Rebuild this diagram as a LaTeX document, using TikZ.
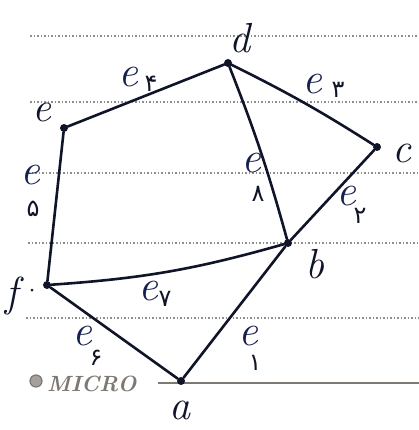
\documentclass[tikz,border=0pt]{standalone}
\usepackage{fontspec}
\newfontfamily\fa{DejaVu Sans}
\definecolor{ink}{HTML}{0F1428}
\definecolor{inkb}{HTML}{16204E}
\definecolor{paperline}{HTML}{8E8E8E}
\definecolor{brandgray}{HTML}{7E7872}
\begin{document}
\begin{tikzpicture}[x=1pt,y=-1pt,
  edge/.style={line width=2.6pt, draw=ink, line cap=round},
  vdot/.style={circle, fill=ink, inner sep=0pt, minimum size=8pt},
  vlab/.style={font=\fontsize{42}{42}\selectfont\itshape, text=ink, inner sep=0pt},
  elab/.style={font=\fontsize{44}{44}\selectfont\itshape, text=inkb, inner sep=0pt},
  esub/.style={font=\fa\fontsize{24}{24}\selectfont, text=ink, inner sep=0pt},
  paper/.style={dotted, line width=1.5pt, draw=paperline}
]
\useasboundingbox[fill=white] (0,0) rectangle (419,430);

% ruled paper
\coordinate (p1a) at (30,36);  \coordinate (p1b) at (419,36);
\coordinate (p2a) at (30,102); \coordinate (p2b) at (419,102);
\coordinate (p3a) at (28,173); \coordinate (p3b) at (419,173);
\coordinate (p4a) at (28,243); \coordinate (p4b) at (419,243);
\coordinate (p5a) at (26,318); \coordinate (p5b) at (419,318);
\coordinate (p6a) at (158,383); \coordinate (p6b) at (419,383);
\draw[paper] (p1a) -- (p1b);
\draw[paper] (p2a) -- (p2b);
\draw[paper] (p3a) -- (p3b);
\draw[paper] (p4a) -- (p4b);
\draw[paper] (p5a) -- (p5b);
\draw[line width=1.6pt, draw=brandgray] (p6a) -- (p6b);
\node[circle, fill=brandgray!70, draw=brandgray, line width=1.2pt, inner sep=0pt, minimum size=12pt] (logo) at (36,381) {};
\node[font=\fontsize{22}{22}\selectfont\bfseries\itshape, text=brandgray, anchor=west, inner sep=0pt] (brand) at (47,384) {MICRO};

% vertices
\node[vdot] (a) at (181,381) {};
\node[vdot] (b) at (288,243) {};
\node[vdot] (c) at (377,147) {};
\node[vdot] (d) at (228,63) {};
\node[vdot] (e) at (64,128) {};
\node[vdot] (f) at (47,285) {};

% vertex labels
\node[vlab] (la) at (180,410) {a};
\node[vlab] (lb) at (315,264) {b};
\node[vlab] (lc) at (402,153) {c};
\node[vlab] (ld) at (240,38) {d};
\node[vlab] (le) at (42,112) {e};
\node[vlab] (lf) at (12,296) {f};
\node[circle, fill=ink, inner sep=0pt, minimum size=3pt] (fdot) at (32,290) {};

% edges
\draw[edge] (a) -- (b);
\draw[edge] (b) -- (c);
\draw[edge] (d) to[bend left=3] (c);
\draw[edge] (d) -- (e);
\draw[edge] (e) -- (f);
\draw[edge] (f) -- (a);
\draw[edge] (f) to[bend right=6] (b);
\draw[edge] (d) to[bend left=3] (b);

% edge labels
\node[elab] (e1) at (248,336) {e}; \node[esub] (s1) at (255,363) {۱};
\node[elab] (e2) at (346,196) {e}; \node[esub] (s2) at (360,216) {۲};
\node[elab] (e3) at (312,84) {e};  \node[esub] (s3) at (338,90) {۳};
\node[elab] (e4) at (128,77) {e};  \node[esub] (s4) at (151,84) {۴};
\node[elab] (e5) at (30,175) {e};  \node[esub] (s5) at (33,209) {۵};
\node[elab] (e6) at (82,336) {e};  \node[esub] (s6) at (96,358) {۶};
\node[elab] (e7) at (148,291) {e}; \node[esub] (s7) at (165,299) {۷};
\node[elab] (e8) at (251,163) {e}; \node[esub] (s8) at (258,194) {۸};
\end{tikzpicture}
\end{document}
